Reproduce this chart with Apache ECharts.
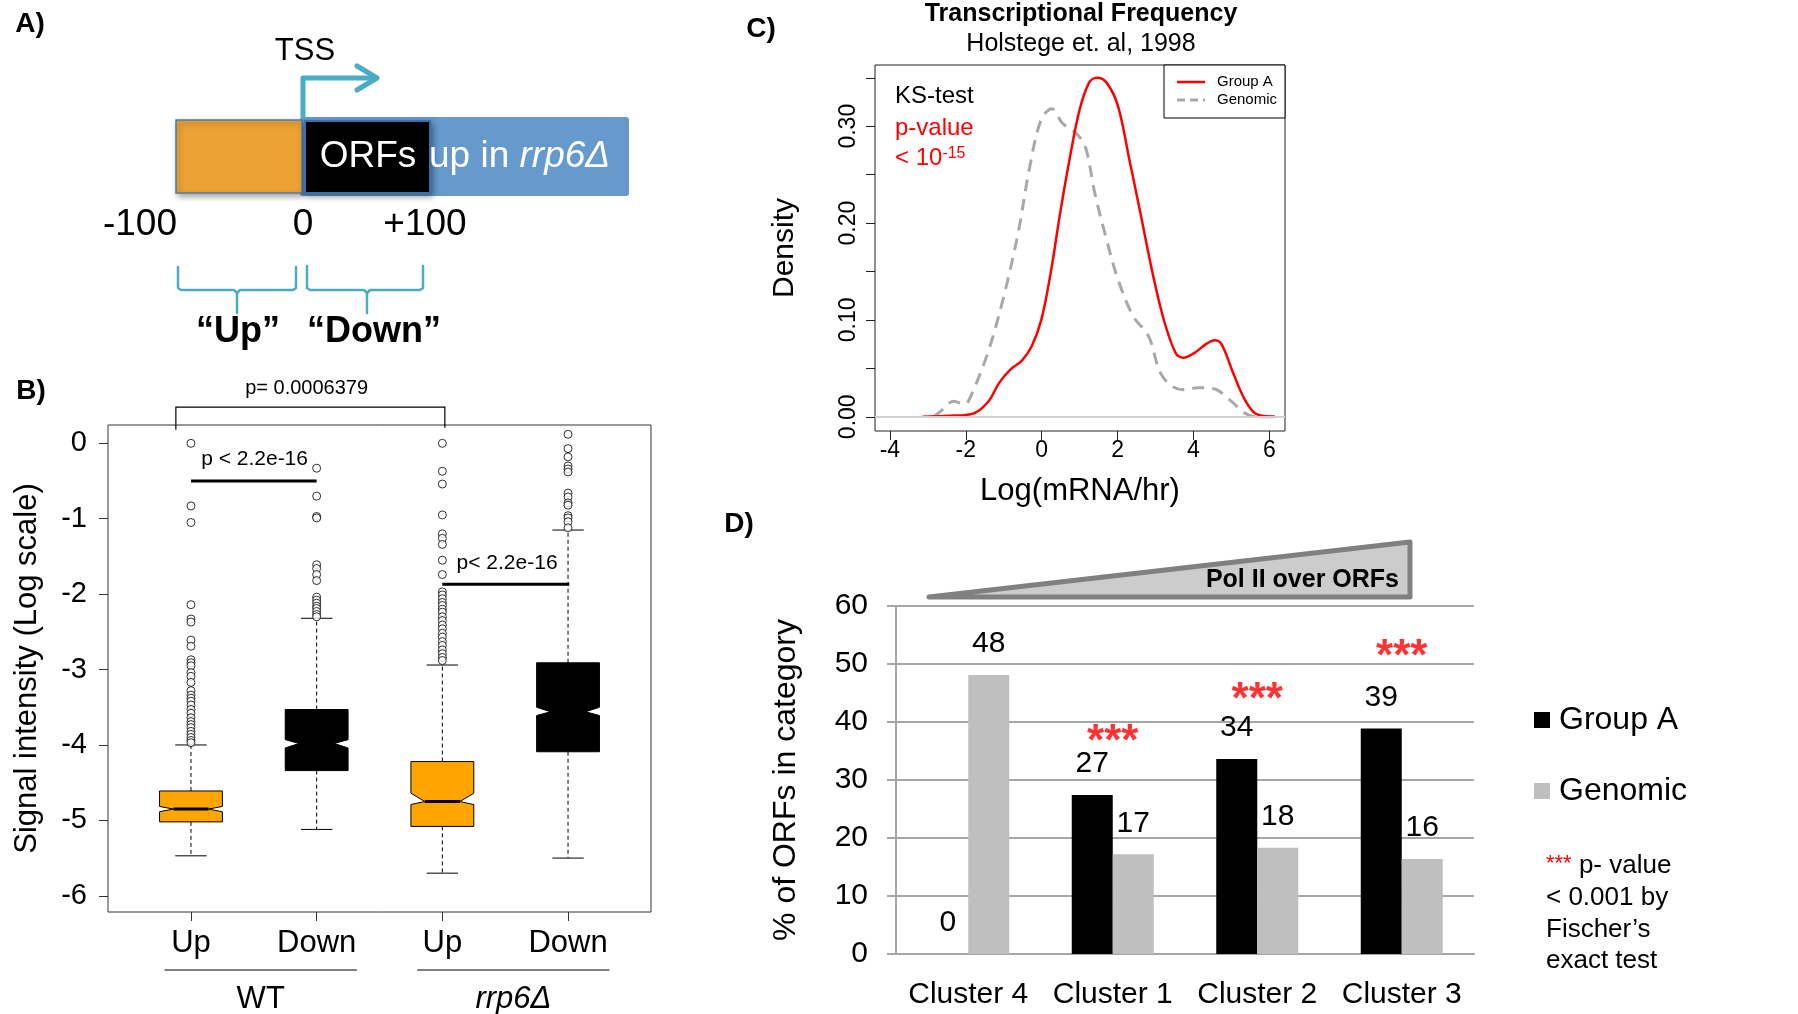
<!DOCTYPE html>
<html>
<head>
<meta charset="utf-8">
<script src="https://cdn.jsdelivr.net/npm/echarts@6.0.0/dist/echarts.min.js"></script>
<style>
  html, body { margin: 0; padding: 0; background: #fff; }
  #main { width: 1798px; height: 1014px; }
</style>
</head>
<body>
<div id="main"></div>
<script>
// ---- panel B: notched boxplots (whisker low, q1, notch low, median, notch high, q3, whisker high)
var boxGroups = ['Up', 'Down', 'Up', 'Down'];
var boxStrains = ['WT', 'rrp6Δ'];
var boxStats = [
  [-5.47, -5.02, -4.885, -4.85, -4.815, -4.61, -4.00],
  [-5.12, -4.34, -4.04, -3.98, -3.93, -3.53, -2.32],
  [-5.70, -5.08, -4.79, -4.75, -4.64, -4.22, -2.94],
  [-5.50, -4.09, -3.61, -3.56, -3.50, -2.91, -1.15]
];
var outWtUp = [0, -0.83, -1.05, -2.14, -2.33, -2.37, -2.61, -2.69, -2.87, -2.91, -2.95, -3.04, -3.09,
  -3.17, -3.28, -3.34, -3.38, -3.42, -3.47, -3.53, -3.58, -3.64, -3.69, -3.73, -3.77, -3.82, -3.86, -3.90, -3.94, -3.97];
var outWtDown = [-0.33, -0.70, -0.97, -0.99, -1.61, -1.66, -1.74, -1.82, -2.04, -2.08, -2.12, -2.16, -2.19, -2.23, -2.27, -2.30];
var outRrpUp = [0, -0.37, -0.54, -0.95, -1.20, -1.26, -1.34, -1.55, -1.74, -1.97, -2.01, -2.06, -2.11, -2.15, -2.20,
  -2.24, -2.30, -2.35, -2.41, -2.46, -2.52, -2.57, -2.63, -2.68, -2.74, -2.79, -2.84, -2.88];
var outRrpDown = [0.12, -0.07, -0.18, -0.30, -0.34, -0.38, -0.66, -0.71, -0.79, -0.82, -0.96, -0.99, -1.04, -1.12];
var bTicks = [0, -1, -2, -3, -4, -5, -6];

// ---- panel C: density curves
var groupAX = [-3.14, -2.43, -1.83, -1.42, -1.12, -0.82, -0.52, -0.26, -0.01, 0.24, 0.49, 0.75, 1.0, 1.25, 1.45,
  1.71, 2.01, 2.31, 2.62, 2.92, 3.22, 3.53, 3.73, 4.03, 4.33, 4.56, 4.74, 5.04, 5.35, 5.65, 6.15];
var groupAY = [0, 0.001, 0.003, 0.015, 0.035, 0.049, 0.058, 0.073, 0.100, 0.149, 0.211, 0.269, 0.317, 0.345, 0.350,
  0.345, 0.321, 0.266, 0.207, 0.149, 0.100, 0.066, 0.061, 0.066, 0.075, 0.079, 0.075, 0.046, 0.018, 0.003, 0];
var genomicX = [-2.84, -2.59, -2.33, -2.03, -1.83, -1.42, -1.02, -0.62, -0.31, -0.01, 0.27, 0.55, 0.9, 1.15, 1.40,
  1.71, 2.01, 2.41, 2.82, 3.12, 3.42, 3.73, 4.13, 4.54, 4.94, 5.35, 5.65, 6.35];
var genomicY = [0, 0.008, 0.016, 0.013, 0.025, 0.066, 0.121, 0.190, 0.259, 0.307, 0.318, 0.303, 0.293, 0.279, 0.231,
  0.183, 0.142, 0.104, 0.083, 0.046, 0.032, 0.028, 0.030, 0.029, 0.018, 0.004, 0, 0];
var cTicksX = [-4, -2, 0, 2, 4, 6];
var cTicksY = [0, 0.05, 0.10, 0.15, 0.20, 0.25, 0.30, 0.35];
var cLabelsY = [0, 0.10, 0.20, 0.30];

// ---- panel D: % of ORFs per cluster
var clusters = ['Cluster 4', 'Cluster 1', 'Cluster 2', 'Cluster 3'];
var groupAPct = [0, 27.4, 33.6, 38.9];
var genomicPct = [48.1, 17.2, 18.3, 16.4];
var starLevel = ['-', 38, 45.2, 52.6];

var FONT = 'Liberation Sans, Arial, Helvetica, sans-serif';
var chart = echarts.init(document.getElementById('main'));

function zip(a, b) {
  return a.map(function (v, i) { return [v, b[i]]; });
}

var outliers = [];
[outWtUp, outWtDown, outRrpUp, outRrpDown].forEach(function (arr, i) {
  arr.forEach(function (v) { outliers.push([i + 1, v]); });
});

function renderBox(params, api) {
  var x = api.value(0);
  var lo = api.value(1), q1 = api.value(2), nLo = api.value(3), med = api.value(4),
      nHi = api.value(5), q3 = api.value(6), hi = api.value(7);
  var hw = 0.25, nw = 0.14, sw = 0.125;
  function p(dx, y) { return api.coord([x + dx, y]); }
  function seg(a, b, style) {
    return { type: 'line', shape: { x1: a[0], y1: a[1], x2: b[0], y2: b[1] }, style: style };
  }
  var fill = params.dataIndex % 2 === 0 ? '#FFA500' : '#000000';
  var dash = { stroke: '#000', lineWidth: 1, lineDash: [4, 3] };
  var solid = { stroke: '#000', lineWidth: 1 };
  return {
    type: 'group',
    children: [
      seg(p(0, q3), p(0, hi), dash),
      seg(p(0, q1), p(0, lo), dash),
      seg(p(-sw, hi), p(sw, hi), solid),
      seg(p(-sw, lo), p(sw, lo), solid),
      {
        type: 'polygon',
        shape: { points: [p(-hw, q3), p(hw, q3), p(hw, nHi), p(nw, med), p(hw, nLo), p(hw, q1),
          p(-hw, q1), p(-hw, nLo), p(-nw, med), p(-hw, nHi)] },
        style: { fill: fill, stroke: '#000', lineWidth: 1 }
      },
      seg(p(-nw, med), p(nw, med), { stroke: '#000', lineWidth: 3 })
    ]
  };
}

var option = {
  animation: false,
  textStyle: { fontFamily: FONT, color: '#000' },
  grid: [
    { left: 108, top: 425, width: 543, height: 487, show: true, borderColor: '#333', borderWidth: 1 },
    { left: 875, top: 65, width: 410, height: 366, show: true, borderColor: '#222', borderWidth: 1 },
    { left: 896, top: 606, width: 578, height: 348 }
  ],
  xAxis: [
    {
      gridIndex: 0, type: 'value', min: 0.34, max: 4.66,
      axisLine: { show: false, onZero: false }, splitLine: { show: false },
      axisTick: { show: true, customValues: [1, 2, 3, 4], length: 9, lineStyle: { color: '#333' } },
      axisLabel: {
        customValues: [1, 2, 3, 4], fontSize: 31, margin: 16, color: '#000',
        formatter: function (v) { return boxGroups[Math.round(v) - 1]; }
      }
    },
    {
      gridIndex: 1, type: 'value', min: -4.393, max: 6.414,
      axisLine: { show: false, onZero: false }, splitLine: { show: false },
      axisTick: { show: true, customValues: cTicksX, length: 9, lineStyle: { color: '#222' } },
      axisLabel: { customValues: cTicksX, fontSize: 23, margin: 8, color: '#000' },
      name: 'Log(mRNA/hr)', nameLocation: 'middle', nameGap: 45,
      nameTextStyle: { fontSize: 31, color: '#000' }
    },
    {
      gridIndex: 2, type: 'category', data: clusters,
      axisLine: { lineStyle: { color: '#a6a6a6', width: 2 } },
      axisTick: { length: 8, lineStyle: { color: '#a6a6a6', width: 2 } },
      axisLabel: { fontSize: 30, margin: 26, color: '#000', interval: 0 }
    }
  ],
  yAxis: [
    {
      gridIndex: 0, type: 'value', min: -6.215, max: 0.243,
      axisLine: { show: false, onZero: false }, splitLine: { show: false },
      axisTick: { show: true, customValues: bTicks, length: 9, lineStyle: { color: '#333' } },
      axisLabel: { customValues: bTicks, fontSize: 29, margin: 21, color: '#000' },
      name: 'Signal intensity (Log scale)', nameLocation: 'middle', nameGap: 65,
      nameTextStyle: { fontSize: 31, color: '#000' }
    },
    {
      gridIndex: 1, type: 'value', min: -0.0147, max: 0.3632,
      axisLine: { show: false, onZero: false }, splitLine: { show: false },
      axisTick: { show: true, customValues: cTicksY, length: 9, lineStyle: { color: '#222' } },
      axisLabel: {
        customValues: cLabelsY, fontSize: 23, margin: 15, rotate: 90, color: '#000',
        formatter: function (v) { return v.toFixed(2); }
      },
      name: 'Density', nameLocation: 'middle', nameGap: 75,
      nameTextStyle: { fontSize: 30, color: '#000' }
    },
    {
      gridIndex: 2, type: 'value', min: 0, max: 60, interval: 10,
      axisLine: { show: true, onZero: false, lineStyle: { color: '#a6a6a6', width: 2 } },
      axisTick: { show: true, length: 9, lineStyle: { color: '#a6a6a6', width: 2 } },
      splitLine: { lineStyle: { color: '#a6a6a6', width: 2 } },
      axisLabel: { fontSize: 30, margin: 28, color: '#000' },
      name: '% of ORFs in category', nameLocation: 'middle', nameGap: 94,
      nameTextStyle: { fontSize: 32, color: '#000' }
    }
  ],
  legend: {
    orient: 'vertical', left: 1529, top: 699, itemWidth: 16, itemHeight: 16, itemGap: 39,
    icon: 'rect', selectedMode: false,
    textStyle: { fontSize: 32, color: '#000', padding: [0, 0, 0, 4] },
    data: ['Group A', 'Genomic']
  },
  series: [
    {
      type: 'custom', name: 'boxes', xAxisIndex: 0, yAxisIndex: 0,
      renderItem: renderBox,
      encode: { x: 0, y: [1, 2, 3, 4, 5, 6, 7] },
      data: boxStats.map(function (s, i) { return [i + 1].concat(s); })
    },
    {
      type: 'scatter', name: 'outliers', xAxisIndex: 0, yAxisIndex: 0,
      symbol: 'circle', symbolSize: 8,
      itemStyle: { color: '#fff', borderColor: '#000', borderWidth: 1 },
      data: outliers, z: 5
    },
    {
      type: 'line', name: 'Group A density', xAxisIndex: 1, yAxisIndex: 1,
      data: zip(groupAX, groupAY), smooth: 0.35, symbol: 'none',
      lineStyle: { color: '#ff0000', width: 2.5 }, z: 4,
      markLine: {
        silent: true, symbol: 'none', label: { show: false },
        lineStyle: { color: '#d0d0d0', width: 2, type: 'solid' },
        data: [{ yAxis: 0 }]
      }
    },
    {
      type: 'line', name: 'Genomic density', xAxisIndex: 1, yAxisIndex: 1,
      data: zip(genomicX, genomicY), smooth: 0.35, symbol: 'none',
      lineStyle: { color: '#a8a8a8', width: 3, type: [12, 8] }, z: 3
    },
    {
      type: 'bar', name: 'Group A', xAxisIndex: 2, yAxisIndex: 2,
      data: groupAPct, barWidth: 41, barGap: '0%',
      itemStyle: { color: '#000' },
      label: {
        show: true, position: 'top', distance: 16, fontSize: 30, color: '#000',
        formatter: function (p) { return Math.round(p.value); }
      }
    },
    {
      type: 'bar', name: 'Genomic', xAxisIndex: 2, yAxisIndex: 2,
      data: genomicPct, barWidth: 41,
      itemStyle: { color: '#bfbfbf' },
      label: {
        show: true, position: 'top', distance: 16, fontSize: 30, color: '#000',
        formatter: function (p) { return Math.round(p.value); }
      }
    },
    {
      type: 'scatter', name: 'stars', xAxisIndex: 2, yAxisIndex: 2,
      data: starLevel, symbolSize: 0, silent: true,
      label: {
        show: true, position: 'inside', formatter: '***', color: '#ff0000',
        fontSize: 44, fontWeight: 'bold', offset: [0, 9]
      }
    }
  ]
};
chart.setOption(option);

// ---- annotations (graphic layer)
function bpx(x, y) { return chart.convertToPixel({ gridIndex: 0 }, [x, y]); }
function txt(text, x, y, size, opts) {
  var st = { text: text, x: x, y: y, fontSize: size, fontFamily: FONT, fill: '#000',
    align: 'center', verticalAlign: 'middle' };
  for (var k in (opts || {})) st[k] = opts[k];
  return { type: 'text', style: st, z: 10 };
}
function pline(points, color, width, extra) {
  var st = { stroke: color, lineWidth: width, fill: null, lineJoin: 'round', lineCap: 'round' };
  for (var k in (extra || {})) st[k] = extra[k];
  return { type: 'polyline', shape: { points: points }, style: st, z: 10 };
}

var TEAL = '#4bacc6';
var g = [];
// panel letters
g.push(txt('A)', 30, 24, 28, { fontWeight: 'bold' }));
g.push(txt('B)', 31, 391, 28, { fontWeight: 'bold' }));
g.push(txt('C)', 761, 29, 28, { fontWeight: 'bold' }));
g.push(txt('D)', 739, 524, 28, { fontWeight: 'bold' }));

// panel A schematic
g.push({ type: 'rect', shape: { x: 300, y: 117, width: 329, height: 79, r: 3 }, style: { fill: '#6699cc' }, z: 8 });
g.push({ type: 'rect', shape: { x: 176, y: 120, width: 126, height: 73 },
  style: { fill: '#eca234', stroke: '#4a7ab5', lineWidth: 1.5, shadowBlur: 6, shadowOffsetX: 2, shadowOffsetY: 3,
    shadowColor: 'rgba(0,0,0,0.35)' }, z: 9 });
g.push({ type: 'rect', shape: { x: 305, y: 121, width: 125, height: 72 },
  style: { fill: '#000', stroke: '#3c6ea8', lineWidth: 2, shadowBlur: 6, shadowOffsetX: 2, shadowOffsetY: 3,
    shadowColor: 'rgba(0,0,0,0.35)' }, z: 9 });
g.push(txt('ORFs', 368, 157, 37, { fill: '#fff' }));
g.push({ type: 'text', z: 10, style: {
  text: '{a|up in }{b|rrp6Δ}', x: 429, y: 157, align: 'left', verticalAlign: 'middle',
  rich: {
    a: { fontSize: 37, fontFamily: FONT, fill: '#fff' },
    b: { fontSize: 37, fontFamily: FONT, fontStyle: 'italic', fill: '#fff' }
  }
} });
g.push(pline([[303, 117], [303, 78], [376, 78]], TEAL, 5));
g.push(pline([[357, 66], [377, 78], [357, 90]], TEAL, 5));
g.push(txt('TSS', 305, 51, 31));
g.push(txt('-100', 140, 225, 37));
g.push(txt('0', 303, 225, 37));
g.push(txt('+100', 425, 225, 37));
g.push(pline([[178, 267], [178, 288], [181, 290], [234, 290], [237, 293], [237, 313]], TEAL, 2.5));
g.push(pline([[296, 267], [296, 288], [293, 290], [240, 290], [237, 293]], TEAL, 2.5));
g.push(pline([[307, 266], [307, 288], [310, 290], [364, 290], [367, 293], [367, 313]], TEAL, 2.5));
g.push(pline([[423, 266], [423, 288], [420, 290], [370, 290], [367, 293]], TEAL, 2.5));
g.push(txt('“Up”', 238, 332, 36, { fontWeight: 'bold' }));
g.push(txt('“Down”', 374, 332, 36, { fontWeight: 'bold' }));

// panel B brackets and labels
var bl = bpx(0.88, 0.18), br = bpx(3.02, 0.18), bt = bpx(0.88, 0.48)[1];
g.push(pline([[bl[0], bl[1]], [bl[0], bt], [br[0], bt], [br[0], br[1] - 2]], '#000', 1.2, { lineJoin: 'miter', lineCap: 'butt' }));
var pt = bpx(1.92, 0.727);
g.push(txt('p= 0.0006379', pt[0], pt[1], 20));
var l1a = bpx(1, -0.5), l1b = bpx(2, -0.5);
g.push(pline([l1a, l1b], '#000', 3, { lineCap: 'butt' }));
var t1 = bpx(1.506, -0.204);
g.push(txt('p < 2.2e-16', t1[0], t1[1], 21));
var l2a = bpx(3, -1.87), l2b = bpx(4.01, -1.87);
g.push(pline([l2a, l2b], '#000', 3, { lineCap: 'butt' }));
var t2 = bpx(3.515, -1.587);
g.push(txt('p< 2.2e-16', t2[0], t2[1], 21));
var u1a = bpx(0.79, 0)[0], u1b = bpx(2.32, 0)[0], u2a = bpx(2.80, 0)[0], u2b = bpx(4.33, 0)[0];
g.push(pline([[u1a, 970], [u1b, 970]], '#000', 1, { lineCap: 'butt' }));
g.push(pline([[u2a, 970], [u2b, 970]], '#000', 1, { lineCap: 'butt' }));
g.push(txt(boxStrains[0], (u1a + u1b) / 2, 999, 31));
g.push(txt(boxStrains[1], (u2a + u2b) / 2, 999, 31, { fontStyle: 'italic' }));

// panel C titles, KS text, legend box
g.push(txt('Transcriptional Frequency', 1081, 14, 25, { fontWeight: 'bold' }));
g.push(txt('Holstege et. al, 1998', 1081, 44, 25));
g.push(txt('KS-test', 895, 96, 24, { align: 'left' }));
g.push(txt('p-value', 895, 128, 24, { align: 'left', fill: '#ff0000' }));
g.push({ type: 'text', z: 10, style: {
  text: '{a|< 10}{b|-15}', x: 895, y: 158, align: 'left', verticalAlign: 'middle',
  rich: {
    a: { fontSize: 24, fontFamily: FONT, fill: '#ff0000', verticalAlign: 'bottom' },
    b: { fontSize: 16, fontFamily: FONT, fill: '#ff0000', verticalAlign: 'top' }
  }
} });
g.push({ type: 'rect', shape: { x: 1164, y: 65, width: 121, height: 53 },
  style: { fill: '#fff', stroke: '#000', lineWidth: 1 }, z: 9 });
g.push(pline([[1177, 82], [1205, 82]], '#ff0000', 2.5, { lineCap: 'butt' }));
g.push(pline([[1177, 100], [1205, 100]], '#a8a8a8', 3, { lineCap: 'butt', lineDash: [8, 5] }));
g.push(txt('Group A', 1217, 82, 15, { align: 'left' }));
g.push(txt('Genomic', 1217, 100, 15, { align: 'left' }));

// panel D wedge and footnote
g.push({ type: 'polygon', shape: { points: [[929, 597], [1410, 542], [1410, 597]] },
  style: { fill: '#cccccc', stroke: '#808080', lineWidth: 5, lineJoin: 'round' }, z: 9 });
g.push(txt('Pol II over ORFs', 1399, 580, 25, { align: 'right', fontWeight: 'bold' }));
g.push({ type: 'text', z: 10, style: {
  text: '{s|***}{t| p- value}', x: 1546, y: 866, align: 'left', verticalAlign: 'middle',
  rich: {
    s: { fontSize: 22, fontFamily: FONT, fill: '#ff0000', verticalAlign: 'top' },
    t: { fontSize: 26, fontFamily: FONT, fill: '#000' }
  }
} });
g.push(txt('< 0.001 by', 1546, 898, 26, { align: 'left' }));
g.push(txt('Fischer’s', 1546, 930, 26, { align: 'left' }));
g.push(txt('exact test', 1546, 961, 26, { align: 'left' }));

chart.setOption({ graphic: g });
</script>
</body>
</html>
